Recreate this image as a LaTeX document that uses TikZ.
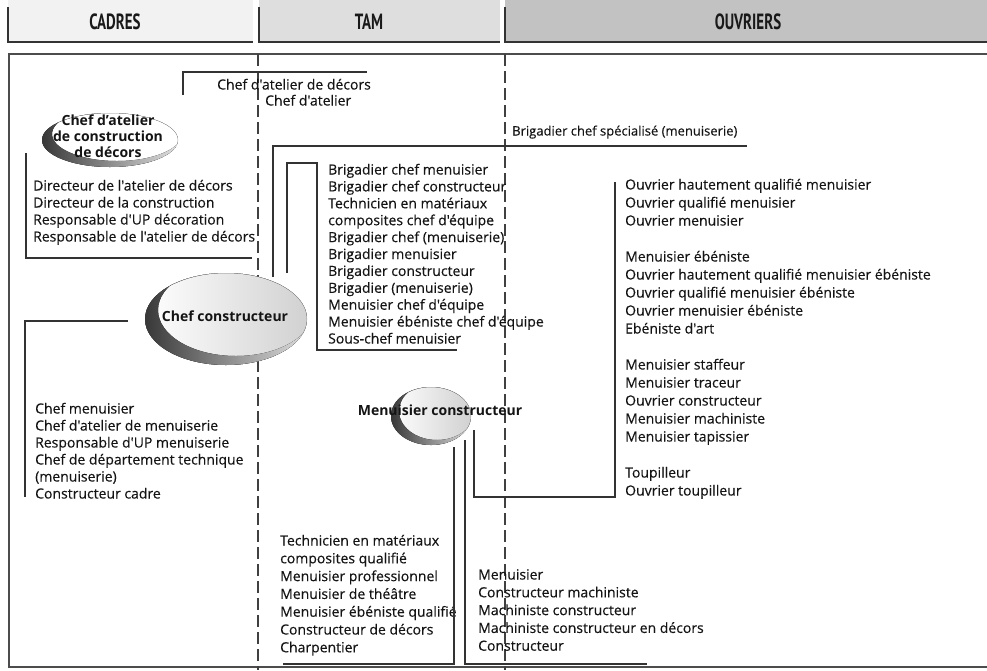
\documentclass[tikz,border=0pt]{standalone}
\usepackage{fontspec}
\setmainfont{Open Sans}
\newfontfamily\itemfont[FakeBold=0.35]{Open Sans}
\newfontfamily\hdrfont{PT Sans}
\usetikzlibrary{calc}

% stacked job titles, baseline on the first line
\newcommand{\joblist}[1]{\begin{tabular}[t]{@{}l@{}}#1\end{tabular}}

% grey crescent ("swoosh") behind a role title:
% #1 centre, #2 x radius, #3 y radius, #4 inner centre, #5 inner x radius, #6 inner y radius, #7 body fill
\newcommand{\swoosh}[7]{%
  \fill[left color=white, right color=#7] (#1) ellipse [x radius=#2, y radius=#3];
  \begin{scope}
    \clip (#1) ellipse [x radius=#2, y radius=#3];
    \fill[even odd rule, left color=black!78, right color=black!10]
      (#1) ellipse [x radius=#2, y radius=#3]
      (#4) ellipse [x radius=#5, y radius=#6];
  \end{scope}}

\begin{document}
\begin{tikzpicture}[x=1pt, y=-1pt,
  tabbar/.style={draw=black!80, line width=2.2pt},
  hdr/.style={font=\hdrfont\fontsize{22}{24}\bfseries\selectfont, text=black!90, inner sep=0pt},
  frame/.style={draw=black!70, line width=1.2pt},
  divider/.style={draw=black!75, line width=1.2pt, dash pattern=on 12pt off 5pt},
  link/.style={draw=black!80, line width=1.2pt},
  role/.style={font=\fontsize{14}{16}\bfseries\selectfont, align=center, inner sep=0pt, text=black!92},
  item/.style={anchor=base west, inner sep=0pt, text=black!92, font=\itemfont\fontsize{14}{17}\selectfont},
]
\useasboundingbox (0,0) rectangle (987,670);

% ---- column headers ----
\fill[black!5]  (8,0)   rectangle (253,42);
\fill[black!13] (259,0) rectangle (500,42);
\fill[black!24] (505,0) rectangle (987,42);
\draw[tabbar] (8,7)   -- (8,42)   -- (253,42);
\draw[tabbar] (259,7) -- (259,42) -- (500,42);
\draw[tabbar] (505,7) -- (505,42) -- (987,42);
\node[hdr] (cadres)   at (115,22) {\scalebox{0.68}[1]{CADRES}};
\node[hdr] (tam)      at (369,22) {\scalebox{0.68}[1]{TAM}};
\node[hdr] (ouvriers) at (748,22) {\scalebox{0.68}[1]{OUVRIERS}};

% ---- frame and column separators ----
\draw[frame] (987,54) -- (9,54) -- (9,667) -- (987,667);
\draw[divider] (258,54) -- (258,670);
\draw[divider] (505,54) -- (505,670);

% ---- role titles on their crescents ----
\swoosh{110,140}{68pt}{27pt}{117,134}{65pt}{27pt}{white}
\swoosh{226,319}{81pt}{46pt}{236,310}{78pt}{46pt}{black!18}
\swoosh{431,416}{40pt}{29pt}{437,411}{38pt}{29pt}{black!18}

\node[role] (atelier) at (108,136) {Chef d'atelier\\de construction\\de décors};
\node[role, anchor=base] (chefc) at (225,321) {Chef constructeur};
\node[role, anchor=base] (menc)  at (440,415) {Menuisier constructeur};

% ---- job title lists ----
\node[item] (decors) at (217,89.5) {Chef d'atelier de décors};
\node[item] (chefat) at (265,105.5) {Chef d'atelier};

\node[item] (direction) at (33,190.5)
  {\joblist{Directeur de l'atelier de décors\\Directeur de la construction\\Responsable d'UP décoration\\Responsable de l'atelier de décors}};

\node[item, font=\itemfont\fontsize{13}{16}\selectfont] (brigspec) at (512,135.5) {Brigadier chef spécialisé (menuiserie)};

\node[item, font=\itemfont\fontsize{14}{16.9}\selectfont] (brigades) at (328,174.5)
  {\joblist{Brigadier chef menuisier\\Brigadier chef constructeur\\Technicien en matériaux\\composites chef d'équipe\\Brigadier chef (menuiserie)\\Brigadier menuisier\\Brigadier constructeur\\Brigadier (menuiserie)\\Menuisier chef d'équipe\\Menuisier ébéniste chef d'équipe\\Sous-chef menuisier}};

\node[item] (cadremen) at (35,413.5)
  {\joblist{Chef menuisier\\Chef d'atelier de menuiserie\\Responsable d'UP menuiserie\\Chef de département technique\\(menuiserie)\\Constructeur cadre}};

\node[item, font=\itemfont\fontsize{14}{18}\selectfont] (ouvmen) at (625,189.5)
  {\joblist{Ouvrier hautement qualifié menuisier\\Ouvrier qualifié menuisier\\Ouvrier menuisier\\[18pt]
   Menuisier ébéniste\\Ouvrier hautement qualifié menuisier ébéniste\\Ouvrier qualifié menuisier ébéniste\\Ouvrier menuisier ébéniste\\Ebéniste d'art\\[18pt]
   Menuisier staffeur\\Menuisier traceur\\Ouvrier constructeur\\Menuisier machiniste\\Menuisier tapissier\\[18pt]
   Toupilleur\\Ouvrier toupilleur}};

\node[item, font=\itemfont\fontsize{14}{17.8}\selectfont] (tamqual) at (280,545.5)
  {\joblist{Technicien en matériaux\\composites qualifié\\Menuisier professionnel\\Menuisier de théâtre\\Menuisier ébéniste qualifié\\Constructeur de décors\\Charpentier}};

\node[item, font=\itemfont\fontsize{14}{17.8}\selectfont] (ouvcons) at (478,579.5)
  {\joblist{Menuisier\\Constructeur machiniste\\Machiniste constructeur\\Machiniste constructeur en décors\\Constructeur}};

% ---- bracket connectors ----
\coordinate (at-up)   at (183,95);
\coordinate (at-end)  at (367,72);
\coordinate (at-dn)   at (26,153);
\coordinate (dir-end) at (252,258);
\coordinate (cc-spec) at (273,277);
\coordinate (spec-end) at (747,146);
\coordinate (cc-brig) at (287,273);
\coordinate (brig-tr) at (317,163);
\coordinate (brig-end) at (457,350);
\coordinate (cc-left) at (128,321);
\coordinate (cad-end) at (25,497);
\coordinate (mc-ouv)  at (474,430);
\coordinate (ouv-br)  at (615,497);
\coordinate (ouv-top) at (615,182);
\coordinate (mc-tam)  at (454,447);
\coordinate (tam-end) at (283,664);
\coordinate (mc-cons) at (465,440);
\coordinate (cons-end) at (647,664);

\draw[link] (at-up) |- (at-end);
\draw[link] (at-dn) |- (dir-end);
\draw[link] (cc-spec) |- (spec-end);
\draw[link] (cc-brig) |- (brig-tr) |- (brig-end);
\draw[link] (cc-left) -| (cad-end);
\draw[link] (mc-ouv) |- (ouv-br) -- (ouv-top);
\draw[link] (mc-tam) |- (tam-end);
\draw[link] (mc-cons) |- (cons-end);
\end{tikzpicture}
\end{document}
